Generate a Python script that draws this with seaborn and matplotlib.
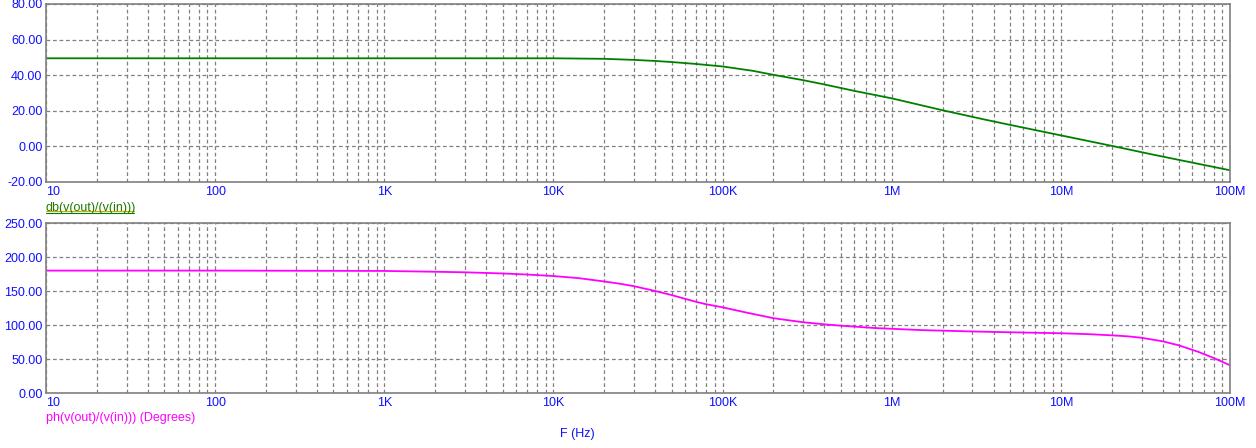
import numpy as np
import pandas as pd
import matplotlib
matplotlib.use("Agg")
import matplotlib.pyplot as plt
from matplotlib.lines import Line2D
import seaborn as sns

# ---- data ----
gain_freq = [10, 1e3, 1e4, 2e4, 3e4, 4e4, 5e4, 7e4, 1e5, 1.5e5, 2e5, 3e5, 4e5, 6e5,
             1e6, 2e6, 3.5e6, 5e6, 1e7, 2e7, 3.5e7, 5e7, 1e8]
gain_db = [49.5, 49.5, 49.5, 49.2, 48.6, 48.0, 47.4, 46.3, 44.9, 42.5, 40.2, 37.2, 34.8, 31.2,
           27.0, 20.3, 15.2, 12.1, 6.2, 0.3, -4.6, -7.6, -13.4]

phase_freq = [10, 100, 1e3, 2e3, 3e3, 5e3, 7e3, 1e4, 1.4e4, 2e4, 2.5e4, 3e4, 4e4, 5e4, 6e4,
              7e4, 8e4, 1e5, 1.4e5, 2e5, 3e5, 4e5, 5e5, 8e5, 1.5e6, 3e6, 5e6, 1e7, 1.5e7,
              2e7, 2.5e7, 3e7, 4e7, 5e7, 6.5e7, 8e7, 1e8]
phase_deg = [180, 180, 179.5, 178.3, 177.5, 175.8, 174.2, 172, 169, 164, 160.5, 157, 150, 144,
             138.5, 134, 130.5, 126, 118, 110, 104, 101, 99, 95.5, 92.5, 90.5, 89.3, 87.9, 86.4,
             84.8, 83.3, 81.2, 76, 70, 60.5, 51.5, 40.8]

x_ticks = [10, 100, 1e3, 1e4, 1e5, 1e6, 1e7, 1e8]
x_tick_labels = ["10", "100", "1K", "10K", "100K", "1M", "10M", "100M"]
gain_yticks = [-20, 0, 20, 40, 60, 80]
phase_yticks = [0, 50, 100, 150, 200, 250]

gain_label = "db(v(out)/(v(in)))"
phase_label = "ph(v(out)/(v(in))) (Degrees)"
x_label = "F (Hz)"

# ---- styling ----
sns.set_theme(style="white")
plt.rcParams["font.family"] = ["Liberation Sans", "DejaVu Sans"]

W, H = 1256, 448
fig = plt.figure(figsize=(W / 100, H / 100), dpi=100)

def fx(px):
    return px / W

def fy(py):
    return 1 - py / H

left, right = 46, 1230
ax1 = fig.add_axes([fx(left), fy(182), fx(right - left), (182 - 4) / H])
ax2 = fig.add_axes([fx(left), fy(393), fx(right - left), (393 - 223) / H])

tick_color = "#1010ff"
grid_kw = dict(color="#808080", linestyle=(0, (3, 2.2)), linewidth=0.9)

df_gain = pd.DataFrame({"f": gain_freq, "v": gain_db})
df_phase = pd.DataFrame({"f": phase_freq, "v": phase_deg})

sns.lineplot(data=df_gain, x="f", y="v", ax=ax1, color="#008000", linewidth=1.3)
sns.lineplot(data=df_phase, x="f", y="v", ax=ax2, color="#ff00ff", linewidth=1.3)

for ax, yt, ylim in [(ax1, gain_yticks, (-20, 80)), (ax2, phase_yticks, (0, 250))]:
    ax.set_xscale("log")
    ax.set_xlim(10, 1e8)
    ax.set_ylim(*ylim)
    ax.set_yticks(yt)
    ax.set_yticklabels([f"{v:.2f}" for v in yt])
    ax.set_xticks(x_ticks)
    ax.set_xticklabels(x_tick_labels)
    ax.xaxis.set_minor_locator(matplotlib.ticker.LogLocator(base=10, subs=np.arange(2, 10), numticks=50))
    ax.xaxis.set_minor_formatter(matplotlib.ticker.NullFormatter())
    ax.grid(True, which="both", axis="x", **grid_kw)
    ax.grid(True, which="major", axis="y", **grid_kw)
    ax.set_xlabel("")
    ax.set_ylabel("")
    ax.tick_params(axis="both", which="both", length=0, labelsize=9, colors=tick_color)
    ax.tick_params(axis="y", pad=2.5)
    ax.tick_params(axis="x", pad=3)
    for s in ax.spines.values():
        s.set_color("#808080")
        s.set_linewidth(1.2)
    ax.set_facecolor("white")
    # first x tick label left-aligned
    lbls = ax.get_xticklabels()
    lbls[0].set_horizontalalignment("left")

# Labels
fig.text(fx(46), fy(208), gain_label, color="#1f7a00", fontsize=9, ha="left", va="center")
fig.add_artist(Line2D([fx(46), fx(134)], [fy(211.5), fy(211.5)], color="#d0a800", linewidth=0.8))
fig.add_artist(Line2D([fx(46), fx(134)], [fy(213.2), fy(213.2)], color="#008000", linewidth=0.8))
fig.text(fx(46), fy(418), phase_label, color="#ff00ff", fontsize=9, ha="left", va="center")
fig.text(fx(577), fy(434), x_label, color=tick_color, fontsize=9, ha="center", va="center")

fig.savefig("out.png", dpi=100, facecolor="white")
